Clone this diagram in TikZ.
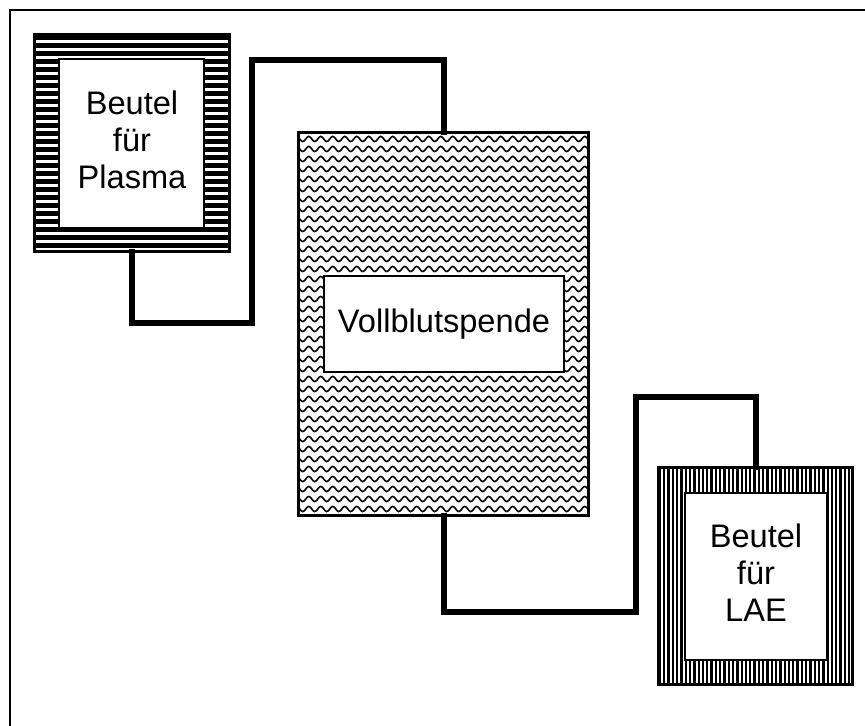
\documentclass[tikz,border=0pt]{standalone}
\usepackage{fontspec}
\setmainfont{Liberation Sans}
\usetikzlibrary{decorations.pathmorphing}
\begin{document}
\begin{tikzpicture}[x=0.5pt,y=-0.5pt,
  bag/.style={draw=black, line width=1pt, inner sep=0pt},
  inbox/.style={draw=black, fill=white, line width=1pt, inner sep=0pt},
  lbl/.style={align=center, font=\fontsize{16.3}{18.5}\selectfont, inner sep=0pt},
  wire/.style={line width=3pt, line cap=rect, line join=miter},
  frameline/.style={line width=1pt}]
\useasboundingbox (0,0) rectangle (865,726);
% frame (cropped at right and bottom)
\coordinate (fTL) at (10,10);
\coordinate (fTR) at (870,10);
\coordinate (fBL) at (10,730);
\draw[frameline] (fBL) -- (fTL) -- (fTR);

% outer shapes
\node[bag, minimum width=97pt, minimum height=108pt] (bagL) at (132,143) {};
\node[bag, minimum width=144.5pt, minimum height=191pt] (vb) at (443.5,324) {};
\node[bag, minimum width=96.5pt, minimum height=108pt] (bagR) at (755.5,576) {};

% patterns
\begin{scope}
  \clip (bagL.south west) rectangle (bagL.north east);
  \foreach \y in {37.5,45.5,...,260} \draw[line width=2.75pt] (30,\y) -- (235,\y);
\end{scope}
\begin{scope}
  \clip (bagR.south west) rectangle (bagR.north east);
  \foreach \x in {660,664.3,...,856} \draw[line width=1.15pt] (\x,460) -- (\x,690);
\end{scope}
\begin{scope}
  \clip (vb.south west) rectangle (vb.north east);
  \foreach \y in {139,149,...,520}
    \draw[line width=0.8pt, decorate, decoration={snake, amplitude=1.3pt, segment length=6pt}] (293,\y) -- (600,\y);
\end{scope}
\draw[line width=1pt] (bagL.south west) rectangle (bagL.north east);
\draw[line width=1pt] (vb.south west) rectangle (vb.north east);
\draw[line width=1pt] (bagR.south west) rectangle (bagR.north east);

% inner white boxes
\node[inbox, minimum width=72.5pt, minimum height=84.5pt] (bagLin) at (131.5,143.5) {};
\node[inbox, minimum width=120pt, minimum height=48pt] (vbin) at (444,324) {};
\node[inbox, minimum width=71pt, minimum height=83.5pt] (bagRin) at (756,576.5) {};

% labels
\node[lbl] (tL) at (132,140) {Beutel\\für\\Plasma};
\node[lbl] (tV) at (444,324) {Vollblutspende};
\node[lbl] (tR) at (756,573) {Beutel\\für\\LAE};

% wires
\coordinate (w1a) at (252,323);
\coordinate (w1b) at (252,60);
\draw[wire] (bagL.south) |- (w1a) -- (w1b) -| (vb.north);
\coordinate (w2a) at (636,612);
\coordinate (w2b) at (636,397);
\draw[wire] (vb.south) |- (w2a) -- (w2b) -| (bagR.north);
\end{tikzpicture}
\end{document}
